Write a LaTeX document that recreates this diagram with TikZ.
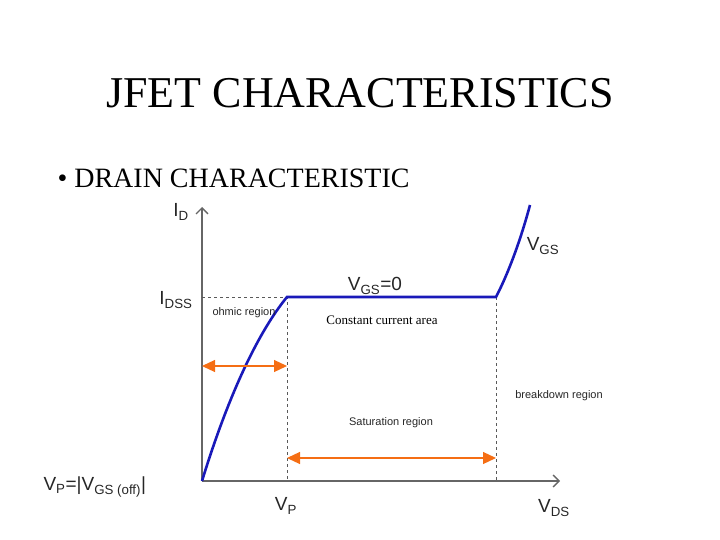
\documentclass[tikz,border=0pt]{standalone}
\usepackage{fontspec}
\setmainfont{Liberation Serif}
\newfontfamily\arial{Liberation Sans}
\usetikzlibrary{arrows.meta}
\definecolor{curve}{RGB}{25,25,185}
\definecolor{org}{RGB}{245,110,20}
\begin{document}
\begin{tikzpicture}[x=1pt,y=-1pt,
  axis/.style={draw=gray!80!black,line width=1.3pt},
  guide/.style={draw=gray!70!black,dashed,line width=1pt},
  oarr/.style={draw=org,line width=1.2pt,{Triangle[length=13pt,width=12pt]}-{Triangle[length=13pt,width=12pt]}},
  lab/.style={font=\arial\fontsize{19}{19}\selectfont,text=black!85},
  small/.style={font=\arial\fontsize{11}{11}\selectfont,text=black!85}]
\useasboundingbox (0,0) rectangle (720,540);
\node (title) at (360,93) {\fontsize{44}{44}\selectfont JFET CHARACTERISTICS};
\node[anchor=west] (bullet) at (54,178) {\fontsize{28}{28}\selectfont • DRAIN CHARACTERISTIC};
\coordinate (o) at (202,481);
\coordinate (ytop) at (202,207);
\coordinate (xend) at (560,481);
\coordinate (ys) at (202,297);
\coordinate (p) at (287,297);
\coordinate (pb) at (287,481);
\coordinate (b) at (496,297);
\coordinate (bb) at (496,481);
\coordinate (e) at (530,205);
\draw[axis,-{Straight Barb[length=6pt,width=12pt]}] (o) -- (ytop);
\draw[axis,-{Straight Barb[length=6pt,width=12pt]}] (o) -- (xend);
\draw[guide] (ys) -- (p) -- (pb);
\draw[guide] (b) -- (bb);
\draw[curve,line width=2.6pt] (o) .. controls (230,390) and (260,330) .. (p) -- (b) .. controls (510,270) and (522,235) .. (e);
\coordinate (a1) at (202,366); \coordinate (a2) at (287,366);
\coordinate (s1) at (287,458); \coordinate (s2) at (496,458);
\draw[oarr] (a1) -- (a2);
\draw[oarr] (s1) -- (s2);
\node[lab] (id) at (181,212) {I\textsubscript{D}};
\node[lab] (idss) at (176,300) {I\textsubscript{DSS}};
\node[lab] (vgs) at (543,246) {V\textsubscript{GS}};
\node[lab] (vgs0) at (375,286) {V\textsubscript{GS}=0};
\node[lab] (vp) at (286,506) {V\textsubscript{P}};
\node[lab] (vds) at (554,508) {V\textsubscript{DS}};
\node[small] (ohm) at (244,313) {ohmic region};
\node (cca) at (382,320) {\fontsize{13}{13}\selectfont Constant current area};
\node[small] (bd) at (559,396) {breakdown region};
\node[small] (sat) at (391,423) {Saturation region};
\node[lab,anchor=west] (vpeq) at (40,487) {V\textsubscript{P}=|V\textsubscript{GS (off)}|};
\end{tikzpicture}
\end{document}
